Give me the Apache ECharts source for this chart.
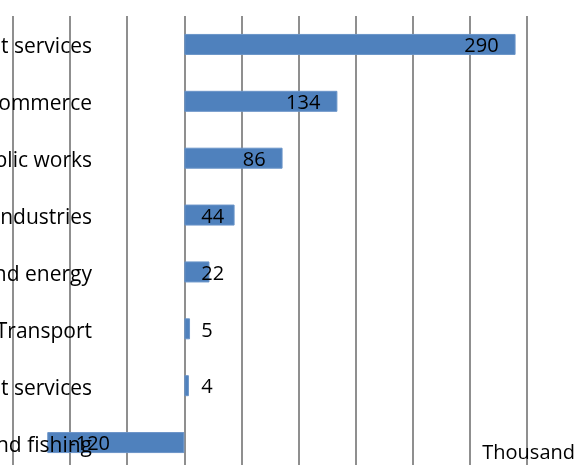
<!DOCTYPE html>
<html>
<head>
<meta charset="utf-8">
<script src="https://cdn.jsdelivr.net/npm/echarts@6/dist/echarts.min.js"></script>
<style>html,body{margin:0;padding:0;background:#fff;}#c{width:582px;height:465px;}</style>
</head>
<body>
<div id="c"></div>
<script>
var categories = ["Market services", "Commerce", "Construction and public works", "Manufacturing industries", "Water and energy", "Transport", "Non-market services", "Agriculture and fishing"];
var values = [290, 134, 86, 44, 22, 5, 4, -120];
var unitLabel = "Thousand";
var axisMin = -150, axisMax = 300, axisStep = 50;

var FONT = "Open Sans";
function labelFor(v) {
  if (v < 0) return { position: "insideLeft", distance: 22 };
  if (v >= 80) return { position: "insideRight", distance: 17 };
  return { position: "insideLeft", distance: 17 };
}
var chart = echarts.init(document.getElementById("c"), null, { renderer: "canvas" });
chart.setOption({
  animation: false,
  backgroundColor: "#ffffff",
  title: {
    text: unitLabel, right: 2, top: 438,
    textStyle: { fontFamily: FONT, fontSize: 20, fontWeight: "normal", color: "#000" }
  },
  grid: { left: 13, right: 55, top: 16, bottom: -6, containLabel: false, outerBoundsMode: "none" },
  xAxis: {
    type: "value", min: axisMin, max: axisMax, interval: axisStep,
    axisLabel: { show: false }, axisTick: { show: false }, axisLine: { show: false },
    splitLine: { show: true, lineStyle: { color: "#8f8f8f", width: 2 } }
  },
  yAxis: {
    type: "category", data: categories, inverse: true, z: 5,
    axisLine: { show: false, onZero: false }, axisTick: { show: false },
    axisLabel: {
      margin: -79, align: "right",
      formatter: function (v) { return "{a|" + v + "}"; },
      rich: { a: { padding: [6, 0, 0, 0], fontFamily: FONT, fontSize: 21, color: "#000" } },
      fontFamily: FONT, fontSize: 21, color: "#000"
    },
    splitLine: { show: false }
  },
  series: [{
    type: "bar",
    barWidth: 21,
    itemStyle: { color: "#4f81bd", borderColor: "#6a94c8", borderWidth: 1 },
    data: values.map(function (v) {
      var l = labelFor(v);
      return { value: v, label: { show: true, position: l.position, distance: l.distance, offset: [0, 2], fontFamily: FONT, fontSize: 20, color: "#000" } };
    })
  }]
});
</script>
</body>
</html>
